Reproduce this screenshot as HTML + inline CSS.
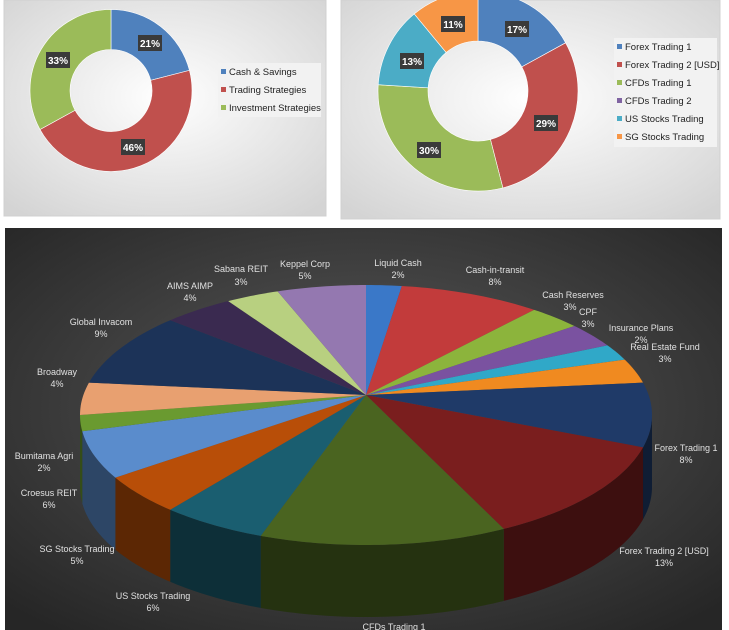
<!DOCTYPE html>
<html><head><meta charset="utf-8"><style>
html,body{margin:0;padding:0;background:#fff;width:729px;height:630px;overflow:hidden}
svg{display:block;font-family:"Liberation Sans",sans-serif}
</style></head><body>
<svg id="s" width="729" height="630" viewBox="0 0 729 630" xmlns="http://www.w3.org/2000/svg">
<defs>
<radialGradient id="lg" cx="50%" cy="45%" r="70%"><stop offset="0" stop-color="#ffffff"/><stop offset="1" stop-color="#d4d4d4"/></radialGradient>
<radialGradient id="dg" cx="50%" cy="45%" r="70%"><stop offset="0" stop-color="#5a5a5a"/><stop offset="1" stop-color="#262626"/></radialGradient>
</defs>
<rect x="4" y="0" width="322" height="216" fill="url(#lg)" stroke="#d0d0d0"/>
<rect x="341" y="0" width="379" height="219" fill="url(#lg)" stroke="#d0d0d0"/>
<rect x="5" y="228" width="717" height="402" fill="url(#dg)"/>
<g id="g1"></g>
<g id="g2"></g>
<g id="g3"></g>
<g font-size="9.5" fill="#222">
<rect x="218" y="63" width="103" height="54" fill="#f2f2f2"/>
<rect x="221" y="69" width="5" height="5" fill="#4f81bd"/><text x="229" y="75">Cash &amp; Savings</text>
<rect x="221" y="87" width="5" height="5" fill="#c0504d"/><text x="229" y="93">Trading Strategies</text>
<rect x="221" y="105" width="5" height="5" fill="#9bbb59"/><text x="229" y="111">Investment Strategies</text>
<rect x="614" y="38" width="103" height="109" fill="#f2f2f2"/>
<rect x="617" y="44" width="5" height="5" fill="#4f81bd"/><text x="625" y="50">Forex Trading 1</text>
<rect x="617" y="62" width="5" height="5" fill="#c0504d"/><text x="625" y="68">Forex Trading 2 [USD]</text>
<rect x="617" y="80" width="5" height="5" fill="#9bbb59"/><text x="625" y="86">CFDs Trading 1</text>
<rect x="617" y="98" width="5" height="5" fill="#8064a2"/><text x="625" y="104">CFDs Trading 2</text>
<rect x="617" y="116" width="5" height="5" fill="#4bacc6"/><text x="625" y="122">US Stocks Trading</text>
<rect x="617" y="134" width="5" height="5" fill="#f79646"/><text x="625" y="140">SG Stocks Trading</text>
</g>
<g id="lb" font-size="10" font-weight="bold" fill="#fff" text-anchor="middle"></g>
<g font-size="9" fill="#e0e0e0" text-anchor="middle">
<text x="398" y="266">Liquid Cash</text><text x="398" y="278">2%</text>
<text x="495" y="273">Cash-in-transit</text><text x="495" y="285">8%</text>
<text x="573" y="298">Cash Reserves</text><text x="570" y="310">3%</text>
<text x="588" y="315">CPF</text><text x="588" y="327">3%</text>
<text x="641" y="331">Insurance Plans</text><text x="641" y="343">2%</text>
<text x="665" y="350">Real Estate Fund</text><text x="665" y="362">3%</text>
<text x="686" y="451">Forex Trading 1</text><text x="686" y="463">8%</text>
<text x="664" y="554">Forex Trading 2 [USD]</text><text x="664" y="566">13%</text>
<text x="394" y="630">CFDs Trading 1</text>
<text x="153" y="599">US Stocks Trading</text><text x="153" y="611">6%</text>
<text x="77" y="552">SG Stocks Trading</text><text x="77" y="564">5%</text>
<text x="49" y="496">Croesus REIT</text><text x="49" y="508">6%</text>
<text x="44" y="459">Bumitama Agri</text><text x="44" y="471">2%</text>
<text x="57" y="375">Broadway</text><text x="57" y="387">4%</text>
<text x="101" y="325">Global Invacom</text><text x="101" y="337">9%</text>
<text x="190" y="289">AIMS AIMP</text><text x="190" y="301">4%</text>
<text x="241" y="272">Sabana REIT</text><text x="241" y="285">3%</text>
<text x="305" y="267">Keppel Corp</text><text x="305" y="279">5%</text>
</g>
</svg>
<script>
var NS="http://www.w3.org/2000/svg";
function el(p,t,a){var e=document.createElementNS(NS,t);for(var k in a)e.setAttribute(k,a[k]);p.appendChild(e);return e;}
function pt(cx,cy,rx,ry,a){var r=a*Math.PI/180;return [cx+rx*Math.sin(r),cy-ry*Math.cos(r)];}
function donut(g,cx,cy,R,r,vals,cols){var a=0,tot=vals.reduce(function(x,y){return x+y},0);
vals.forEach(function(v,i){if(!v)return;var b=a+v/tot*360,l=(b-a)>180?1:0;
var p1=pt(cx,cy,R,R,a),p2=pt(cx,cy,R,R,b),p3=pt(cx,cy,r,r,b),p4=pt(cx,cy,r,r,a);
el(g,"path",{d:"M"+p1+"A"+R+","+R+" 0 "+l+" 1 "+p2+"L"+p3+"A"+r+","+r+" 0 "+l+" 0 "+p4+"Z",fill:cols[i],stroke:"#fff","stroke-width":"0.6"});a=b;});}
donut(document.getElementById("g1"),111,90.5,81,41,[21,46,33],["#4f81bd","#c0504d","#9bbb59"]);
donut(document.getElementById("g2"),478,91,100,50,[17,29,30,0,13,11],["#4f81bd","#c0504d","#9bbb59","#8064a2","#4bacc6","#f79646"]);
var lb=document.getElementById("lb");
[[150,43,"21%"],[133,147,"46%"],[58,60,"33%"],[517,29,"17%"],[546,123,"29%"],[429,150,"30%"],[412,61,"13%"],[453,24,"11%"]].forEach(function(q){
el(lb,"rect",{x:q[0]-12,y:q[1]-8,width:24,height:16,fill:"#3a3a3a"});var t=el(lb,"text",{x:q[0],y:q[1]+4});t.textContent=q[2];});
// 3D pie with perspective: apex above ellipse centre
var g3=document.getElementById("g3"),cx=366,cy=415,rx=286,ry=130,D=72,ax=366,ay=395;
var sl=[[2,"#3a78c8"],[8,"#c23b3b"],[3,"#8cb43c"],[3,"#7a52a0"],[2,"#30a8c8"],[3,"#f08a20"],[8,"#1f3a68"],[13,"#7a1e1e"],[14,"#4a6420"],[6,"#1a5e70"],[5,"#b84e08"],[6,"#5a8ccc"],[2,"#6a9a30"],[4,"#e8a070"],[9,"#1c3358"],[4,"#3a2a50"],[3,"#b8d080"],[5,"#9478b0"]];
function dark(c,f){var n=parseInt(c.slice(1),16);var r=(n>>16)*f|0,g=((n>>8)&255)*f|0,b=(n&255)*f|0;return "rgb("+r+","+g+","+b+")";}
var a=0,segs=[];sl.forEach(function(s){var b=a+s[0]*3.6;segs.push([a,b,s[1]]);a=b;});
segs.forEach(function(s){var a0=Math.max(s[0],90),a1=Math.min(s[1],270);if(a1<=a0)return;
var d="M"+pt(cx,cy,rx,ry,a0);for(var t=a0;t<=a1;t+=1)d+="L"+pt(cx,cy,rx,ry,t);d+="L"+pt(cx,cy,rx,ry,a1);
for(var t=a1;t>=a0;t-=1){var p=pt(cx,cy,rx,ry,t);d+="L"+[p[0],p[1]+D];}var p=pt(cx,cy,rx,ry,a0);d+="L"+[p[0],p[1]+D]+"Z";
el(g3,"path",{d:d,fill:dark(s[2],0.5)});});
segs.forEach(function(s){var d="M"+ax+","+ay;for(var t=s[0];t<=s[1];t+=1)d+="L"+pt(cx,cy,rx,ry,t);d+="L"+pt(cx,cy,rx,ry,s[1])+"Z";
el(g3,"path",{d:d,fill:s[2]});});
</script>
</body></html>
